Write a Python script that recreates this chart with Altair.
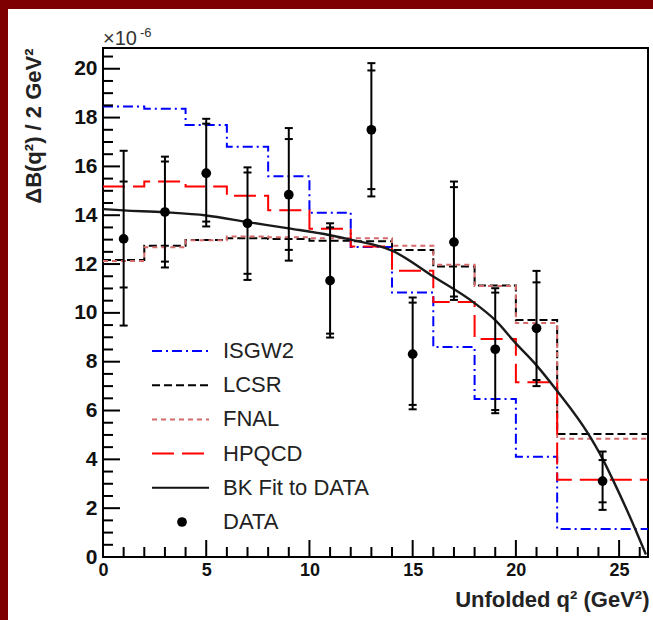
import altair as alt
import pandas as pd

# ---------------- data ----------------
models = ["ISGW2", "LCSR", "FNAL", "HPQCD", "BK Fit to DATA", "DATA"]
colors = ["#0000ff", "#000000", "#d46a6a", "#ff0000", "#111111", "#000000"]
dashes = [[10, 4, 2, 4], [8, 4], [5, 4], [22, 8], [1, 0], [1, 0]]

edges = [0, 2, 4, 6, 8, 10, 12, 14, 16, 18, 20, 22, 26.4]
isgw2 = [18.45, 18.36, 17.7, 16.8, 15.6, 14.1, 12.7, 10.83, 8.6, 6.47, 4.11, 1.15]
lcsr = [12.17, 12.75, 12.99, 13.06, 13.03, 12.95, 12.93, 12.58, 11.9, 11.12, 9.71, 5.04]
fnal = [12.13, 12.69, 12.97, 13.13, 13.1, 13.06, 13.06, 12.75, 11.97, 11.1, 9.59, 4.84]
hpqcd = [15.18, 15.38, 15.18, 14.8, 14.2, 13.45, 12.72, 11.73, 10.45, 8.93, 7.16, 3.16]

fit_q2 = [0.0, 1.0, 3.0, 5.0, 7.0, 9.0, 11.0, 12.0, 14.0, 16.0, 18.0, 19.0, 20.0,
          21.0, 22.0, 23.5, 24.2, 24.7, 25.8, 26.3]
fit_val = [14.25, 14.2, 14.12, 13.99, 13.72, 13.46, 13.18, 13.0, 12.55, 11.49, 10.4,
           9.7, 8.75, 7.85, 6.8, 5.05, 4.02, 3.16, 1.11, 0.1]

data_q2 = [1, 3, 5, 7, 9, 11, 13, 15, 17, 19, 21, 24.2]
data_val = [13.03, 14.13, 15.72, 13.67, 14.84, 11.32, 17.5, 8.31, 12.9, 8.51, 9.37, 3.11]
hi_tot = [16.64, 16.4, 17.95, 15.96, 17.57, 13.67, 20.23, 10.63, 15.38, 11.01, 11.72, 4.32]
hi_stat = [15.38, 16.2, 17.75, 15.75, 17.12, 13.5, 19.93, 10.42, 15.15, 10.83, 11.25, 3.97]
lo_stat = [11.04, 12.1, 13.74, 11.6, 12.58, 9.15, 15.07, 6.23, 10.67, 6.02, 7.25, 2.24]
lo_tot = [9.48, 11.86, 13.54, 11.35, 12.14, 8.99, 14.77, 6.05, 10.53, 5.89, 7.0, 1.93]

y_major = [0, 2, 4, 6, 8, 10, 12, 14, 16, 18, 20]
y_minor = [0.5, 1, 1.5, 2.5, 3, 3.5, 4.5, 5, 5.5, 6.5, 7, 7.5, 8.5, 9, 9.5, 10.5, 11,
           11.5, 12.5, 13, 13.5, 14.5, 15, 15.5, 16.5, 17, 17.5, 18.5, 19, 19.5, 20.5]
x_major = [0, 5, 10, 15, 20, 25]
x_minor = [1, 2, 3, 4, 6, 7, 8, 9, 11, 12, 13, 14, 16, 17, 18, 19, 21, 22, 23, 24, 26]

# ---------------- layout ----------------
W, H = 545, 509
PL, PT = 103, 48
TOTAL_W, TOTAL_H = 653, 620
FONT = "Liberation Sans"
RED = "#7e0000"

xsc = alt.Scale(domain=[0, 26.4], nice=False, zero=False)
ysc = alt.Scale(domain=[0, 20.85], nice=False, zero=False)
xax = alt.Axis(values=x_major, labelFont=FONT, labelFontSize=18, labelFontWeight="bold",
               labelColor="#111111", labelPadding=4, labelFlush=False, labelOverlap=False,
               ticks=False, domain=False, grid=False,
               title="Unfolded q² (GeV²)", titleFont=FONT, titleFontSize=22,
               titleFontWeight="bold", titleColor="#222222", titleAlign="right",
               titleAnchor="end", titleX=W + 1, titleY=49, titleBaseline="alphabetic")
yax = alt.Axis(values=y_major, labelFont=FONT, labelFontSize=21, labelFontWeight="bold",
               labelColor="#111111", labelPadding=6, labelFlush=False, labelOverlap=False,
               ticks=False, domain=False, grid=False,
               title="ΔB(q²) / 2 GeV²", titleFont=FONT, titleFontSize=22,
               titleFontWeight="bold", titleColor="#222222", titleAngle=270,
               titleAlign="right", titleBaseline="middle", titleX=-70, titleY=0)


def X(f):
    return alt.X(f, type="quantitative", scale=xsc, axis=xax)


def Y(f):
    return alt.Y(f, type="quantitative", scale=ysc, axis=yax)


cscale = alt.Scale(domain=models, range=colors)
dscale = alt.Scale(domain=models, range=dashes)

one = pd.DataFrame({"k": [0]})

# decorative dark-red frame strips
left_strip = alt.Chart(one).mark_rect(color=RED, clip=False).encode(
    x=alt.value(-PL), x2=alt.value(-PL + 8), y=alt.value(-PT), y2=alt.value(TOTAL_H - PT))
top_strip = alt.Chart(one).mark_rect(color=RED, clip=False).encode(
    x=alt.value(-PL), x2=alt.value(TOTAL_W - PL), y=alt.value(-PT), y2=alt.value(-PT + 9))

# inward ticks
ymaj = alt.Chart(pd.DataFrame({"v": y_major})).mark_rule(color="black", strokeWidth=2).encode(
    y=Y("v"), x=alt.value(0), x2=alt.value(17))
ymin = alt.Chart(pd.DataFrame({"v": y_minor})).mark_rule(color="black", strokeWidth=2).encode(
    y=Y("v"), x=alt.value(0), x2=alt.value(10))
xmaj = alt.Chart(pd.DataFrame({"v": x_major})).mark_rule(color="black", strokeWidth=2).encode(
    x=X("v"), y=alt.value(H), y2=alt.value(H - 17))
xmin = alt.Chart(pd.DataFrame({"v": x_minor})).mark_rule(color="black", strokeWidth=2).encode(
    x=X("v"), y=alt.value(H), y2=alt.value(H - 10))

# step histograms
rows = []
for name, vals in [("ISGW2", isgw2), ("LCSR", lcsr), ("FNAL", fnal), ("HPQCD", hpqcd)]:
    ext = vals + [vals[-1]]
    for e, v in zip(edges, ext):
        rows.append({"model": name, "q2": e, "val": v})
steps_df = pd.DataFrame(rows)
steps = alt.Chart(steps_df).mark_line(interpolate="step-after", strokeWidth=2, clip=True).encode(
    x=X("q2"), y=Y("val"),
    color=alt.Color("model:N", scale=cscale, legend=None),
    strokeDash=alt.StrokeDash("model:N", scale=dscale, legend=None),
    order=alt.Order("q2:Q"))

fit = alt.Chart(pd.DataFrame({"q2": fit_q2, "val": fit_val})).mark_line(
    interpolate="monotone", color="#1a1a1a", strokeWidth=2.4, clip=True).encode(
    x=X("q2"), y=Y("val"))

dd = pd.DataFrame({"q2": data_q2, "val": data_val, "hi_tot": hi_tot, "hi_stat": hi_stat,
                   "lo_stat": lo_stat, "lo_tot": lo_tot})
bars = alt.Chart(dd).mark_rule(color="black", strokeWidth=2).encode(
    x=X("q2"), y=Y("lo_tot"), y2="hi_tot")
caps_df = pd.concat([
    pd.DataFrame({"q2": data_q2, "cap": c}) for c in (hi_tot, hi_stat, lo_stat, lo_tot)
])
caps = alt.Chart(caps_df).mark_rule(color="black", strokeWidth=2, xOffset=-4, x2Offset=4).encode(
    x=X("q2"), x2="q2", y=Y("cap"))
pts = alt.Chart(dd).mark_circle(color="black", size=95, opacity=1).encode(
    x=X("q2"), y=Y("val"))

# x10^-6 annotation
exp_a = alt.Chart(one).mark_text(text="×10", font=FONT, fontSize=20, color="#333333",
                                 align="left", baseline="alphabetic").encode(
    x=alt.value(0), y=alt.value(-3))
exp_b = alt.Chart(one).mark_text(text="-6", font=FONT, fontSize=13, color="#333333",
                                 align="left", baseline="alphabetic").encode(
    x=alt.value(37), y=alt.value(-11))

main = alt.layer(left_strip, top_strip, steps, fit, bars, caps, pts,
                 ymaj, ymin, xmaj, xmin, exp_a, exp_b)

# legend built from the model list
lsc = alt.Scale(type="point", domain=models, range=[303, 474], padding=0)
leg_df = pd.DataFrame({"model": models})
leg_lines = alt.Chart(leg_df).transform_filter(alt.datum.model != "DATA").mark_rule(
    strokeWidth=2).encode(
    y=alt.Y("model:N", scale=lsc, axis=None),
    x=alt.value(49), x2=alt.value(106),
    color=alt.Color("model:N", scale=cscale, legend=None),
    strokeDash=alt.StrokeDash("model:N", scale=dscale, legend=None))
leg_dot = alt.Chart(leg_df).transform_filter(alt.datum.model == "DATA").mark_circle(
    color="black", size=95, opacity=1).encode(
    y=alt.Y("model:N", scale=lsc, axis=None), x=alt.value(79))
leg_text = alt.Chart(leg_df).mark_text(font=FONT, fontSize=22, color="#222222",
                                       align="left", baseline="middle").encode(
    y=alt.Y("model:N", scale=lsc, axis=None), x=alt.value(120), text="model:N")
legend = alt.layer(leg_lines, leg_dot, leg_text)

chart = alt.layer(main, legend).resolve_scale(y="independent").properties(
    width=W, height=H,
    autosize=alt.AutoSizeParams(type="none"),
    padding={"left": PL, "top": PT, "right": TOTAL_W - PL - W, "bottom": TOTAL_H - PT - H},
    background="white",
).configure_view(stroke="black", strokeWidth=2)

chart.save("out.html", embed_options={"renderer": "svg", "actions": False})
